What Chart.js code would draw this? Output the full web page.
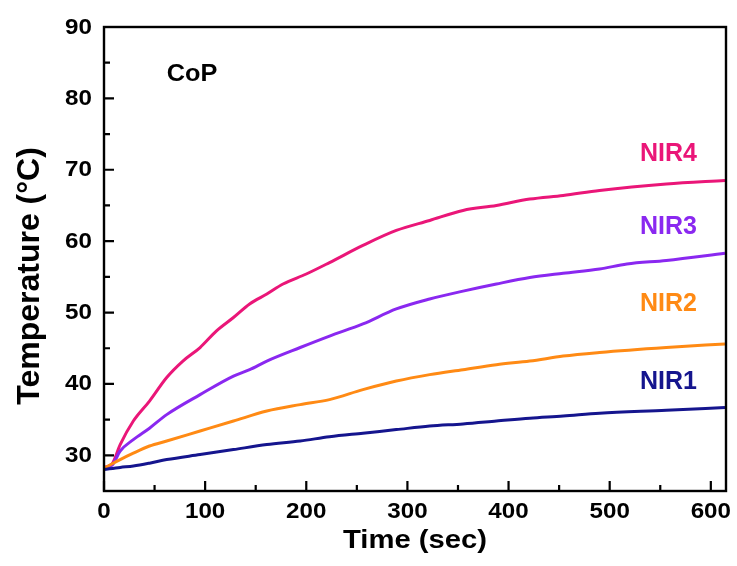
<!DOCTYPE html>
<html><head><meta charset="utf-8">
<script src="https://cdn.jsdelivr.net/npm/chart.js@4.4.1/dist/chart.umd.min.js"></script>
<style>html,body{margin:0;padding:0;background:#fff;overflow:hidden}#wrap{width:737px;height:566px;position:relative}</style>
</head><body><div id="wrap"><canvas id="c"></canvas></div>
<script>
// ---- data ----
const xTicks = [0, 100, 200, 300, 400, 500, 600];
const xMinorTicks = [50, 150, 250, 350, 450, 550];
const yTicks = [30, 40, 50, 60, 70, 80, 90];
const yMinorTicks = [35, 45, 55, 65, 75, 85];

const nir1Time = [0, 16, 29, 45, 62, 95, 128, 161, 194, 223, 256, 289, 322, 355, 388, 421, 454, 490, 556, 614];
const nir1Temp = [28.0, 28.3, 28.5, 28.9, 29.4, 30.1, 30.8, 31.5, 32.0, 32.6, 33.1, 33.6, 34.1, 34.4, 34.8, 35.2, 35.5, 35.9, 36.3, 36.7];

const nir2Time = [0, 16, 29, 45, 62, 95, 128, 161, 194, 223, 256, 289, 322, 355, 388, 421, 454, 490, 556, 614];
const nir2Temp = [28.2, 29.4, 30.3, 31.3, 32.0, 33.4, 34.8, 36.2, 37.1, 37.8, 39.2, 40.4, 41.3, 42.0, 42.7, 43.2, 43.9, 44.4, 45.1, 45.6];

const nir3Time = [0, 8, 16, 29, 45, 62, 95, 128, 144, 161, 194, 223, 256, 289, 322, 355, 388, 421, 454, 490, 517, 556, 614];
const nir3Temp = [28.2, 28.6, 30.6, 32.2, 33.8, 35.7, 38.5, 41.1, 42.0, 43.2, 45.1, 46.7, 48.4, 50.5, 51.9, 53.0, 54.0, 54.9, 55.5, 56.1, 56.8, 57.3, 58.3];

const nir4Time = [0, 8, 16, 29, 45, 62, 78, 95, 111, 128, 144, 161, 177, 200, 223, 256, 289, 322, 355, 388, 421, 454, 490, 556, 614];
const nir4Temp = [28.3, 28.8, 31.5, 34.8, 37.6, 40.9, 43.2, 45.1, 47.4, 49.3, 51.2, 52.6, 54.0, 55.4, 57.0, 59.4, 61.5, 62.9, 64.3, 65.0, 65.9, 66.4, 67.1, 68.0, 68.5];

const seriesNames = ['NIR1', 'NIR2', 'NIR3', 'NIR4'];
const seriesColors = ['#15158E', '#FF8A14', '#8A28F0', '#EA1678'];
const seriesTimes = [nir1Time, nir2Time, nir3Time, nir4Time];
const seriesTemps = [nir1Temp, nir2Temp, nir3Temp, nir4Temp];
const seriesLabelValues = [40.2, 51.2, 62.0, 72.2]; // y value where each label sits
const seriesLabelX = 530; // x value of label left edge
const sampleName = 'CoP';

const datasets = seriesNames.map((n, i) => ({
  label: n,
  data: seriesTimes[i].map((t, k) => ({x: t, y: seriesTemps[i][k]})),
  borderColor: seriesColors[i],
  borderWidth: 3,
  pointRadius: 0,
  cubicInterpolationMode: 'monotone',
  fill: false
}));

const FONT = '"Liberation Sans", Arial, sans-serif';

const framePlugin = {
  id: 'frame',
  afterDraw(chart) {
    const ctx = chart.ctx, a = chart.chartArea;
    const xs = chart.scales.x, ys = chart.scales.y;
    ctx.save();
    ctx.strokeStyle = '#000';
    ctx.lineWidth = 2.4;
    ctx.strokeRect(a.left, a.top, a.right - a.left, a.bottom - a.top);
    ctx.lineWidth = 2.2;
    ctx.beginPath();
    xTicks.forEach(v => { const p = xs.getPixelForValue(v); ctx.moveTo(p, a.bottom); ctx.lineTo(p, a.bottom - 10); });
    xMinorTicks.forEach(v => { const p = xs.getPixelForValue(v); ctx.moveTo(p, a.bottom); ctx.lineTo(p, a.bottom - 6); });
    yTicks.forEach(v => { const p = ys.getPixelForValue(v); ctx.moveTo(a.left, p); ctx.lineTo(a.left + 10, p); });
    yMinorTicks.forEach(v => { const p = ys.getPixelForValue(v); ctx.moveTo(a.left, p); ctx.lineTo(a.left + 6, p); });
    ctx.stroke();

    // tick labels from the library's scales (slightly widened font)
    ctx.fillStyle = '#000';
    ctx.textBaseline = 'middle';
    ctx.font = 'bold 22px ' + FONT;
    xs.ticks.forEach(t => {
      ctx.save();
      ctx.translate(xs.getPixelForValue(t.value), a.bottom + 21);
      ctx.scale(1.1, 1);
      ctx.textAlign = 'center';
      ctx.fillText(String(t.value), 0, 0);
      ctx.restore();
    });
    ys.ticks.forEach(t => {
      ctx.save();
      ctx.translate(a.left - 12, ys.getPixelForValue(t.value) + 0.5);
      ctx.scale(1.1, 1);
      ctx.textAlign = 'right';
      ctx.fillText(String(t.value), 0, 0);
      ctx.restore();
    });

    // sample label
    ctx.textAlign = 'left';
    ctx.save();
    ctx.translate(xs.getPixelForValue(62), ys.getPixelForValue(83.3));
    ctx.scale(1.1, 1);
    ctx.font = 'bold 23px ' + FONT;
    ctx.fillText(sampleName, 0, 0);
    ctx.restore();

    // series labels
    ctx.font = 'bold 25px ' + FONT;
    seriesNames.forEach((n, i) => {
      ctx.fillStyle = seriesColors[i];
      ctx.fillText(n, xs.getPixelForValue(seriesLabelX), ys.getPixelForValue(seriesLabelValues[i]));
    });

    // axis titles
    ctx.fillStyle = '#000';
    ctx.textAlign = 'center';
    ctx.save();
    ctx.translate(415, 541);
    ctx.scale(1.17, 1);
    ctx.font = 'bold 25px ' + FONT;
    ctx.fillText('Time (sec)', 0, 0);
    ctx.restore();

    ctx.save();
    ctx.translate(30, 276);
    ctx.rotate(-Math.PI / 2);
    ctx.font = 'bold 32px ' + FONT;
    ctx.fillText('Temperature (°C)', 0, 0);
    ctx.restore();
    ctx.restore();
  }
};

new Chart(document.getElementById('c'), {
  type: 'line',
  data: {datasets},
  options: {
    responsive: true,
    maintainAspectRatio: false,
    animation: false,
    layout: {padding: {left: 0, right: 11, top: 27, bottom: 0}},
    plugins: {legend: {display: false}, tooltip: {enabled: false}},
    scales: {
      x: {
        type: 'linear', min: 0, max: 615,
        afterBuildTicks: s => { s.ticks = xTicks.map(v => ({value: v})); },
        afterFit: s => { s.height = 75; },
        grid: {display: false, drawTicks: false},
        border: {display: false},
        ticks: {display: false}
      },
      y: {
        type: 'linear', min: 25, max: 90,
        afterBuildTicks: s => { s.ticks = yTicks.map(v => ({value: v})); },
        afterFit: s => { s.width = 104; },
        grid: {display: false, drawTicks: false},
        border: {display: false},
        ticks: {display: false}
      }
    }
  },
  plugins: [framePlugin]
});
</script>
</body></html>
